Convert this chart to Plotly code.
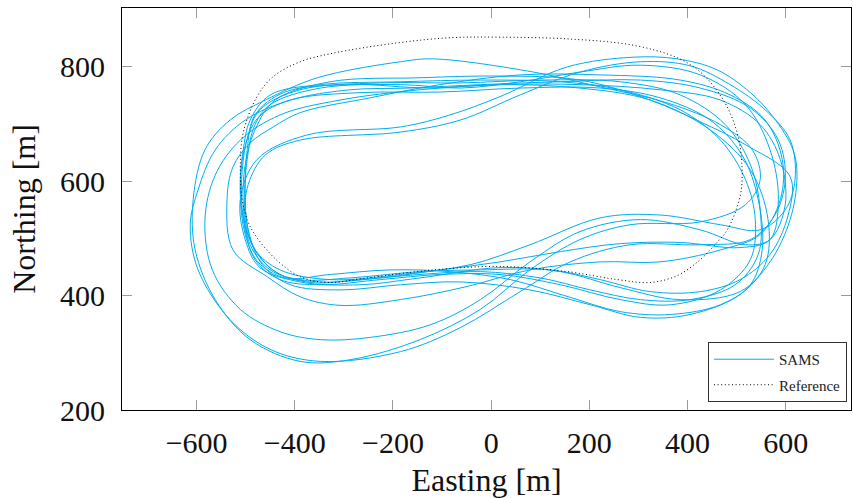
import plotly.graph_objects as go

# Reference path (dotted)
ref_x = [-507, -511, -505, -477, -444, -389, -322, -191, -84, 18, 155, 289, 379, 426, 473, 501, 511, 507,
         481, 460, 426, 379, 324, 257, 155, 18, -118, -253, -334, -389, -444, -491, -507]
ref_y = [568, 625, 685, 748, 783, 809, 824, 842, 851, 852, 849, 838, 816, 791, 742, 685, 625, 573,
         515, 493, 463, 435, 423, 428, 442, 451, 445, 431, 423, 433, 468, 521, 568]

# SAMS laps
lap01_x = [-354, -460, -532, -583, -607, -603, -562, -491, -389, -287, -145, -22, 79, 181, 283, 426, 518, 548, 532, 467, 359, 222, 86, -118, -185]
lap01_y = [781, 742, 707, 655, 568, 480, 393, 323, 285, 288, 323, 376, 445, 498, 524, 529, 559, 603, 655, 699, 737, 765, 791, 814, 809]

lap02_x = [-185, -375, -477, -511, -501, -471, -389, -267, -145, 18, 141, 263, 385, 507, 568, 609, 623, 615, 574, 528, 460, 379, 289, 155, 18, -84]
lap02_y = [695, 681, 638, 568, 498, 449, 424, 419, 431, 449, 442, 414, 393, 407, 459, 533, 608, 655, 713, 755, 795, 814, 817, 800, 748, 716]

lap03_x = [-185, -389, -460, -495, -501, -481, -430, -328, -185, -43, 79, 222, 344, 467, 548, 599, 619, 609, 558, 487, 405, 304, 181, 59, -63]
lap03_y = [686, 672, 646, 594, 533, 480, 445, 428, 437, 454, 489, 536, 541, 524, 515, 550, 603, 672, 725, 769, 802, 809, 791, 751, 707]

lap04_x = [-491, -450, -348, -185, -22, 141, 263, 385, 467, 518, 538, 528, 467, 365, 263, 141, 18, -104, -226, -348, -430, -481, -505, -511, -505]
lap04_y = [707, 751, 769, 774, 777, 774, 760, 725, 672, 603, 533, 463, 410, 384, 393, 419, 437, 437, 428, 419, 428, 463, 533, 603, 655]

lap05_x = [-481, -420, -287, -124, 18, 181, 324, 446, 528, 564, 558, 507, 405, 304, 202, 79, -63, -185, -308, -409, -466, -495, -501, -497]
lap05_y = [716, 756, 769, 763, 769, 763, 742, 690, 620, 533, 454, 402, 367, 362, 384, 410, 424, 419, 410, 419, 454, 515, 585, 655]

lap06_x = [-389, -444, -491, -526, -538, -526, -456, -389, -308, -185, -49, 79, 222, 344, 467, 548, 589, 593, 558, 487, 385, 222, 59, -104, -246]
lap06_y = [720, 695, 667, 625, 568, 480, 433, 398, 383, 393, 416, 445, 459, 459, 480, 507, 568, 638, 707, 751, 777, 786, 786, 769, 746]

lap07_x = [-287, -409, -501, -562, -597, -613, -597, -532, -450, -348, -185, -63, 59, 161, 283, 426, 528, 578, 599, 585, 528, 426, 304, 141, -22, -165]
lap07_y = [760, 742, 707, 655, 585, 524, 445, 358, 306, 285, 302, 344, 407, 459, 489, 489, 498, 541, 603, 672, 728, 763, 777, 774, 769, 763]

lap08_x = [-511, -562, -583, -568, -511, -430, -348, -246, -124, -22, 79, 181, 304, 426, 518, 568, 599, 589, 548, 467, 344, 181, 18, -145, -308, -430]
lap08_y = [672, 611, 533, 445, 376, 337, 323, 327, 349, 393, 459, 512, 533, 515, 489, 498, 559, 638, 699, 742, 760, 769, 769, 760, 742, 716]

lap09_x = [-471, -389, -226, -63, 100, 263, 385, 477, 528, 548, 544, 497, 405, 304, 202, 100, -22, -145, -267, -369, -440, -487, -507, -507, -495]
lap09_y = [725, 760, 772, 772, 777, 774, 751, 699, 629, 550, 472, 419, 393, 393, 410, 431, 442, 437, 428, 423, 442, 489, 550, 620, 681]

lap10_x = [-450, -348, -185, -63, 59, 181, 304, 426, 518, 568, 585, 568, 507, 385, 263, 141, 18, -104, -226, -348, -430, -481, -501, -497, -481]
lap10_y = [734, 763, 769, 763, 774, 791, 803, 786, 734, 655, 568, 498, 484, 493, 491, 477, 459, 445, 431, 424, 437, 480, 550, 638, 699]

lap11_x = [-475, -409, -267, -104, 59, 222, 344, 446, 511, 544, 552, 528, 467, 365, 263, 161, 39, -84, -206, -328, -420, -475, -501, -511, -503]
lap11_y = [711, 742, 755, 756, 763, 763, 746, 707, 646, 568, 480, 419, 384, 367, 372, 397, 428, 442, 445, 437, 431, 459, 507, 576, 655]

lap12_x = [-481, -440, -328, -145, 18, 181, 324, 426, 518, 609, 605, 568, 507, 426, 324, 222, 120, -22, -145, -287, -389, -450, -491, -505, -501]
lap12_y = [690, 742, 774, 781, 784, 777, 742, 704, 664, 608, 541, 472, 428, 407, 407, 428, 445, 445, 442, 431, 428, 445, 489, 559, 629]

laps = [(lap01_x, lap01_y), (lap02_x, lap02_y), (lap03_x, lap03_y), (lap04_x, lap04_y),
        (lap05_x, lap05_y), (lap06_x, lap06_y), (lap07_x, lap07_y), (lap08_x, lap08_y),
        (lap09_x, lap09_y), (lap10_x, lap10_y), (lap11_x, lap11_y), (lap12_x, lap12_y)]

x_ticks = [-600, -400, -200, 0, 200, 400, 600]
y_ticks = [200, 400, 600, 800]

SAMS_COLOR = '#00AEEF'
FONT = 'Liberation Serif'

fig = go.Figure()
for i, (lx, ly) in enumerate(laps):
    fig.add_trace(go.Scatter(
        x=list(lx) + [lx[0]], y=list(ly) + [ly[0]], mode='lines',
        line=dict(color=SAMS_COLOR, width=1, shape='spline', smoothing=1.0),
        name='SAMS', legendgroup='sams', showlegend=(i == 0)))

fig.add_trace(go.Scatter(
    x=ref_x, y=ref_y, mode='lines',
    line=dict(color='black', width=1, dash='1px,2.6px', shape='spline', smoothing=1.0),
    name='Reference', legendgroup='ref'))

fig.update_layout(
    width=853, height=498,
    margin=dict(l=122, r=2, t=8, b=88),
    paper_bgcolor='white', plot_bgcolor='white',
    font=dict(family=FONT, color='black'),
    legend=dict(x=0.9945, y=0.02, xanchor='right', yanchor='bottom',
                bordercolor='#333333', borderwidth=1, bgcolor='white',
                font=dict(family=FONT, size=15, color='#222222'),
                traceorder='grouped', tracegroupgap=3, itemwidth=60),
)
axis_common = dict(ticks='inside', ticklen=10, tickcolor='#9a9a9a', tickwidth=1,
                   showline=True, linecolor='black', linewidth=1, mirror='ticks',
                   showgrid=False, zeroline=False, automargin=False,
                   tickfont=dict(family=FONT, size=30, color='#111111'))
fig.update_xaxes(range=[-752, 733], tickvals=x_ticks, ticklabelstandoff=6,
                 title=dict(text='Easting [m]', font=dict(family=FONT, size=32, color='#111111'), standoff=10),
                 **axis_common)
fig.update_yaxes(range=[200, 903], tickvals=y_ticks, ticklabelstandoff=10,
                 title=dict(text='Northing [m]', font=dict(family=FONT, size=32, color='#111111'), standoff=14),
                 **axis_common)

fig.write_html('out.html')
